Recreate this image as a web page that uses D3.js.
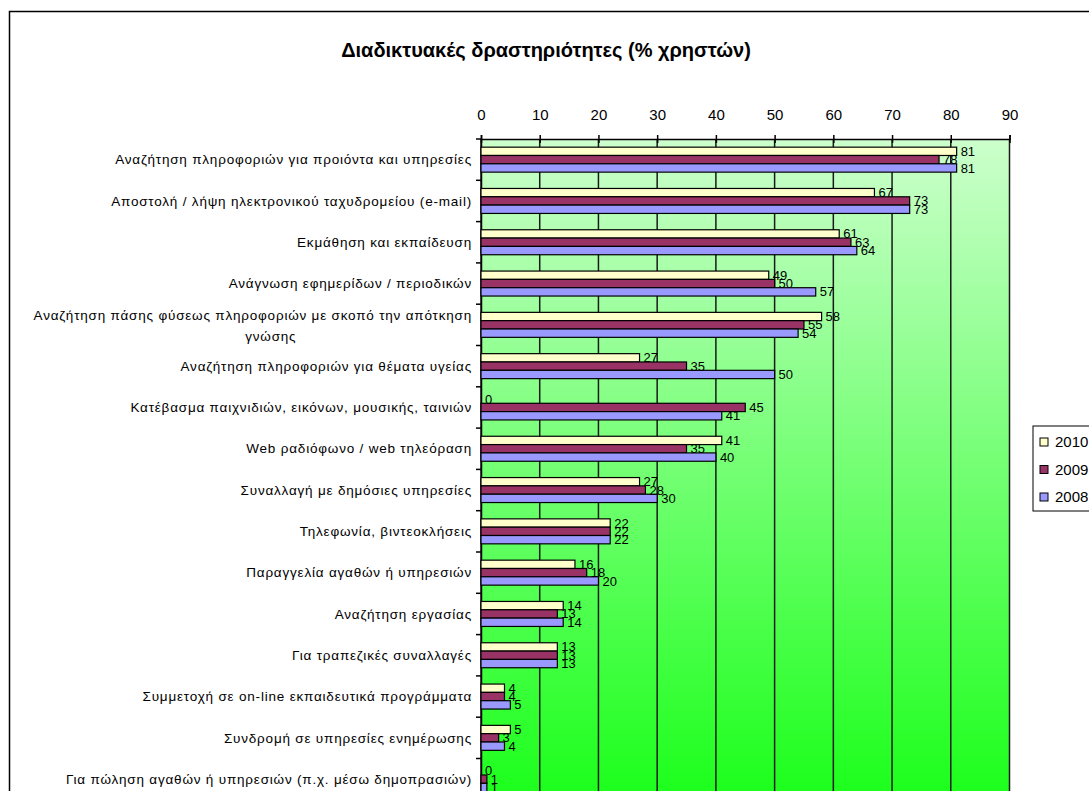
<!DOCTYPE html>
<html>
<head>
<meta charset="utf-8">
<script src="https://cdn.jsdelivr.net/npm/d3@7/dist/d3.min.js"></script>
<style>
  html, body { margin: 0; padding: 0; background: #ffffff; }
  svg { display: block; font-family: "Liberation Sans", Arial, sans-serif; }
</style>
</head>
<body>
<svg id="chart" width="1089" height="791"></svg>
<script>
// Activities (one row each, top to bottom)
const categories = [
  "Αναζήτηση πληροφοριών για προιόντα και υπηρεσίες",
  "Αποστολή / λήψη ηλεκτρονικού ταχυδρομείου (e-mail)",
  "Εκμάθηση και εκπαίδευση",
  "Ανάγνωση εφημερίδων / περιοδικών",
  "Αναζήτηση πάσης φύσεως πληροφοριών με σκοπό την απότκηση\nγνώσης",
  "Αναζήτηση πληροφοριών για θέματα υγείας",
  "Κατέβασμα παιχνιδιών, εικόνων, μουσικής, ταινιών",
  "Web ραδιόφωνο / web τηλεόραση",
  "Συναλλαγή με δημόσιες υπηρεσίες",
  "Τηλεφωνία, βιντεοκλήσεις",
  "Παραγγελία αγαθών ή υπηρεσιών",
  "Αναζήτηση εργασίας",
  "Για τραπεζικές συναλλαγές",
  "Συμμετοχή σε on-line εκπαιδευτικά προγράμματα",
  "Συνδρομή σε υπηρεσίες ενημέρωσης",
  "Για πώληση αγαθών ή υπηρεσιών (π.χ. μέσω δημοπρασιών)"
];

// Series, in drawing order within each row
const seriesNames = ["2010", "2009", "2008"];
const values2010 = [81, 67, 61, 49, 58, 27, 0, 41, 27, 22, 16, 14, 13, 4, 5, 0];
const values2009 = [78, 73, 63, 50, 55, 35, 45, 35, 28, 22, 18, 13, 13, 4, 3, 1];
const values2008 = [81, 73, 64, 57, 54, 50, 41, 40, 30, 22, 20, 14, 13, 5, 4, 1];
const seriesColors = ["#FFFFCC", "#993366", "#9999FF"];

// Value axis ticks
const xTicks = [0, 10, 20, 30, 40, 50, 60, 70, 80, 90];

const titleText = "Διαδικτυακές δραστηριότητες (% χρηστών)";

const seriesValues = [values2010, values2009, values2008];
const rows = categories.map((c, i) => ({
  category: c,
  values: seriesNames.map((s, k) => ({ series: s, value: seriesValues[k][i], color: seriesColors[k] }))
}));

const svg = d3.select("#chart");

// Outer chart frame
svg.append("rect")
  .attr("x", 9.5).attr("y", 11.5)
  .attr("width", 1200).attr("height", 1000)
  .attr("fill", "#ffffff")
  .attr("stroke", "#000000").attr("stroke-width", 1.5);

// Title
svg.append("text")
  .attr("x", 546).attr("y", 57)
  .attr("text-anchor", "middle")
  .attr("font-size", 20).attr("font-weight", "bold")
  .attr("fill", "#000")
  .text(titleText);

// Plot geometry
const plotLeft = 481, plotRight = 1009.5, plotTop = 139;
const bandH = 41.3;
const plotBottom = plotTop + bandH * categories.length;

const x = d3.scaleLinear().domain([0, 90]).range([plotLeft, plotRight]);
const y0 = d3.scaleBand().domain(categories).range([plotTop, plotBottom]).paddingInner(0).paddingOuter(0);
const y1 = d3.scaleBand().domain(seriesNames).range([0, y0.bandwidth()]).paddingInner(0).paddingOuter(0.98);

// Gradient background for the plot area
const defs = svg.append("defs");
const grad = defs.append("linearGradient")
  .attr("id", "plotBg")
  .attr("gradientUnits", "userSpaceOnUse")
  .attr("x1", 0).attr("y1", plotTop).attr("x2", 0).attr("y2", 900);
grad.append("stop").attr("offset", 0).attr("stop-color", "#CCFFCC");
grad.append("stop").attr("offset", 1).attr("stop-color", "#00FF00");

svg.append("rect")
  .attr("x", plotLeft).attr("y", plotTop)
  .attr("width", plotRight - plotLeft).attr("height", plotBottom - plotTop)
  .attr("fill", "url(#plotBg)");

// Vertical gridlines
svg.append("g")
  .selectAll("line")
  .data(xTicks)
  .join("line")
  .attr("x1", d => x(d)).attr("x2", d => x(d))
  .attr("y1", plotTop).attr("y2", plotBottom)
  .attr("stroke", "#1a1a1a").attr("stroke-width", 1.5);

// Top value axis
const xAxis = svg.append("g")
  .attr("transform", `translate(0,${plotTop})`)
  .call(d3.axisTop(x).tickValues(xTicks).tickSize(4).tickPadding(15));
xAxis.select(".domain").attr("stroke", "#000").attr("stroke-width", 1.5);
xAxis.selectAll(".tick line").attr("stroke", "#000").attr("stroke-width", 1.5).attr("y2", 4).attr("y1", -4);
xAxis.selectAll(".tick text")
  .attr("font-size", 15).attr("fill", "#000")
  .attr("font-family", "Liberation Sans, Arial, sans-serif");

// Left category axis
const yAxis = svg.append("g")
  .attr("transform", `translate(${plotLeft},0)`)
  .call(d3.axisLeft(y0).tickSize(0).tickFormat(""));
yAxis.select(".domain").attr("stroke", "#000").attr("stroke-width", 1.5);

// Category boundary ticks
svg.append("g")
  .selectAll("line")
  .data(d3.range(categories.length + 1))
  .join("line")
  .attr("x1", plotLeft - 5).attr("x2", plotLeft)
  .attr("y1", i => plotTop + i * y0.step()).attr("y2", i => plotTop + i * y0.step())
  .attr("stroke", "#000").attr("stroke-width", 1.5);

// Category labels (multi-line where the name contains a break)
const labelG = svg.append("g")
  .attr("font-size", 13.5).attr("letter-spacing", "0.8px").attr("fill", "#000");
rows.forEach(r => {
  const lines = r.category.split("\n");
  const cy = y0(r.category) + y0.bandwidth() / 2;
  if (lines.length === 1) {
    labelG.append("text")
      .attr("x", 472).attr("y", cy)
      .attr("dy", "0.35em")
      .attr("text-anchor", "end")
      .text(lines[0]);
  } else {
    const t = labelG.append("text")
      .attr("x", 472).attr("y", cy - 10)
      .attr("dy", "0.35em")
      .attr("text-anchor", "end")
      .text(lines[0]);
    const w = t.node().getComputedTextLength();
    labelG.append("text")
      .attr("x", 472 - w / 2 + 18).attr("y", cy + 11)
      .attr("dy", "0.35em")
      .attr("text-anchor", "middle")
      .text(lines[1]);
  }
});

// Bars
const groups = svg.append("g")
  .selectAll("g")
  .data(rows)
  .join("g")
  .attr("transform", d => `translate(0,${y0(d.category)})`);

groups.selectAll("rect")
  .data(d => d.values)
  .join("rect")
  .attr("x", x(0))
  .attr("y", d => y1(d.series))
  .attr("width", d => x(d.value) - x(0))
  .attr("height", y1.bandwidth())
  .attr("fill", d => d.color)
  .attr("stroke", "#000").attr("stroke-width", 1.2);

// Value labels
groups.selectAll("text")
  .data(d => d.values)
  .join("text")
  .attr("x", d => x(d.value) + 4)
  .attr("y", d => y1(d.series) + y1.bandwidth() / 2)
  .attr("dy", "0.35em")
  .attr("font-size", 13).attr("fill", "#000")
  .text(d => d.value);

// Legend
const legend = svg.append("g").attr("transform", "translate(1033,426)");
legend.append("rect")
  .attr("x", 0).attr("y", 0).attr("width", 120).attr("height", 85)
  .attr("fill", "#ffffff").attr("stroke", "#000").attr("stroke-width", 1);
const li = legend.selectAll("g.item")
  .data(seriesNames.map((s, k) => ({ s, c: seriesColors[k] })))
  .join("g")
  .attr("class", "item")
  .attr("transform", (d, i) => `translate(7,${16 + i * 27.5})`);
li.append("rect")
  .attr("x", 0).attr("y", -4).attr("width", 8).attr("height", 8)
  .attr("fill", d => d.c).attr("stroke", "#000").attr("stroke-width", 1);
li.append("text")
  .attr("x", 15).attr("y", 0).attr("dy", "0.36em")
  .attr("font-size", 15).attr("fill", "#000")
  .text(d => d.s);
</script>
</body>
</html>
